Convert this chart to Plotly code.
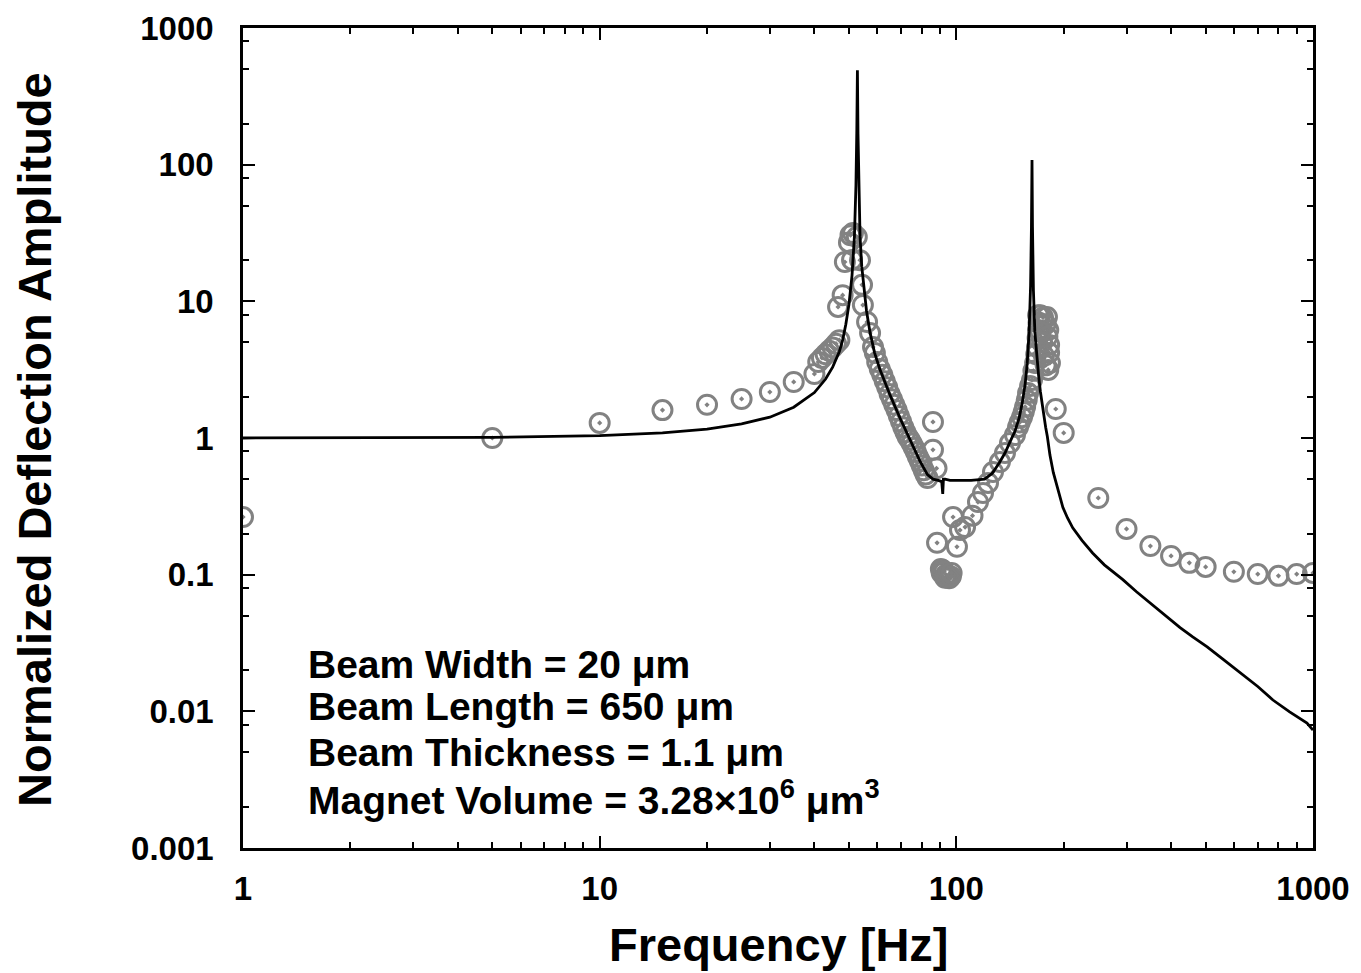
import plotly.graph_objects as go

# ---- measured data (open circles) ----
meas_f = [1, 5, 10, 15, 20, 25, 30, 35, 40,
          41, 42, 43, 44, 45, 46, 47,
          46.6, 48, 48.7, 50, 50.5, 51, 51.3, 52.6,
          53.7, 54.4, 54.7, 56.2, 57.3, 58.4, 59.1,
          60, 61, 62, 63, 64, 65, 66, 67, 68, 69, 70, 71, 72, 73, 74, 75, 76, 77, 78, 79, 80, 81, 82, 83,
          86, 86, 88, 88.3,
          90.5, 91, 91.5, 92.5, 93, 93.5, 94.5, 95.5, 96.5, 97,
          97.9, 100.4, 102.4, 105.8, 111, 115, 118.8, 122.7, 126.7, 132.5, 136.9, 141.4, 146, 148.9,
          150.5, 152.8, 154.5, 155.9, 157.5, 158.9, 161, 163, 164.5, 166.3, 167.5, 168.4, 169, 169.5, 170, 169.5,
          172, 175, 179.5, 178, 181, 180, 182, 182, 183, 181, 178, 176, 174, 172,
          190, 200, 250, 300, 350, 400, 450, 500, 600, 700, 800, 900, 1000]
meas_a = [0.264, 1.0, 1.29, 1.6, 1.75, 1.93, 2.17, 2.57, 2.94,
          3.6, 3.85, 4.1, 4.35, 4.6, 4.9, 5.2,
          9.1, 11.1, 19.4, 27, 30.5, 20.1, 31.6, 29.6,
          20, 13.2, 9.4, 7.06, 5.86, 4.63, 4.19,
          3.6, 3.2, 2.9, 2.6, 2.35, 2.1, 1.92, 1.75, 1.6, 1.45, 1.32, 1.2, 1.1, 1.02, 0.97, 0.91, 0.85, 0.79, 0.73, 0.68, 0.63, 0.58, 0.54, 0.51,
          1.31, 0.82, 0.6, 0.171,
          0.11, 0.103, 0.108, 0.105, 0.095, 0.1, 0.098, 0.094, 0.097, 0.103,
          0.264, 0.16, 0.212, 0.223, 0.27, 0.34, 0.396, 0.469, 0.564, 0.667, 0.776, 0.918, 1.05, 1.2,
          1.3, 1.42, 1.55, 1.69, 1.9, 2.13, 2.4, 2.66, 3.1, 3.54, 4.1, 4.63, 5.4, 6.17, 7.0, 7.9,
          7.9, 7.6, 7.67, 6.8, 6.17, 5.5, 4.8, 4.2, 3.54, 3.15, 3.4, 4.0, 5.0, 6.0,
          1.63, 1.09, 0.364, 0.216, 0.162, 0.137, 0.122, 0.114, 0.105, 0.101, 0.098, 0.101, 0.103]

# ---- model curve (solid line) ----
model_f = [1, 2, 5, 10, 15, 20, 25, 30, 35, 40, 43, 45, 47, 48, 49, 50, 51, 51.8, 52.3, 52.6, 52.8,
           53.0, 53.3, 53.7, 54.3, 55, 56, 57.3, 59, 61, 65, 69.5, 74, 79, 83, 86, 89, 91.0, 91.6, 92.0,
           93, 96, 100, 110, 120, 126, 132, 137, 141, 146, 150, 153, 156, 158, 160, 161.5, 162.4, 163,
           163.5, 164.5, 166, 168, 170, 172, 174, 176, 178, 180, 183, 187, 192, 199, 205, 212, 225, 241,
           260, 293, 320, 349, 385, 424, 460, 505, 560, 624, 700, 772, 860, 962, 1000]
model_a = [1.0, 1.0, 1.01, 1.04, 1.09, 1.16, 1.27, 1.42, 1.68, 2.15, 2.7, 3.3, 4.3, 5.2, 6.8, 9.5, 15.5, 30, 70, 180, 490,
           170, 60, 30, 18, 12.5, 8.5, 5.9, 4.2, 3.2, 2.1, 1.4, 0.98, 0.68, 0.54, 0.5, 0.49, 0.48, 0.39, 0.5,
           0.5, 0.49, 0.49, 0.49, 0.5, 0.55, 0.66, 0.78, 0.92, 1.12, 1.4, 1.8, 2.5, 3.5, 6, 13, 35, 108,
           35, 12, 6, 3.8, 2.9, 2.2, 1.75, 1.45, 1.2, 1.02, 0.75, 0.56, 0.43, 0.31, 0.26, 0.22, 0.178, 0.144,
           0.118, 0.092, 0.075, 0.062, 0.05, 0.041, 0.035, 0.0296, 0.024, 0.0191, 0.0152, 0.0121, 0.0099, 0.0082, 0.0073]

x_major = [1, 10, 100, 1000]
x_major_text = ["1", "10", "100", "1000"]
x_minor = [2, 3, 4, 5, 6, 7, 8, 9, 20, 30, 40, 50, 60, 70, 80, 90, 200, 300, 400, 500, 600, 700, 800, 900]
y_major = [0.001, 0.01, 0.1, 1, 10, 100, 1000]
y_major_text = ["0.001", "0.01", "0.1", "1", "10", "100", "1000"]
y_minor = [0.002, 0.005, 0.008, 0.02, 0.05, 0.08, 0.2, 0.5, 0.8, 2, 5, 8, 20, 50, 80, 200, 500, 800]

info_lines = ["Beam Width = 20 μm",
              "Beam Length = 650 μm",
              "Beam Thickness = 1.1 μm",
              "Magnet Volume = 3.28×10<sup>6</sup> μm<sup>3</sup>"]

FONT = "Liberation Sans, Arial, Helvetica, sans-serif"

fig = go.Figure()
fig.add_trace(go.Scatter(
    x=meas_f, y=meas_a, mode="markers",
    marker=dict(symbol="circle-open-dot", size=19, color="#828282",
                line=dict(width=3, color="#828282")),
    showlegend=False))
fig.add_trace(go.Scatter(
    x=model_f, y=model_a, mode="lines",
    line=dict(color="black", width=2.8),
    showlegend=False))

axis_common = dict(
    type="log", showgrid=False, zeroline=False, automargin=False,
    showline=True, linecolor="black", linewidth=2.5, mirror="allticks",
    ticks="inside", ticklen=12, tickwidth=2, tickcolor="black",
    tickfont=dict(family=FONT, size=33, color="black", weight="bold"),
    tickmode="array",
)

fig.update_xaxes(**axis_common, range=[0, 3], tickvals=x_major, ticktext=x_major_text,
                 ticklabelstandoff=10,
                 minor=dict(ticks="inside", ticklen=6, tickwidth=2, tickcolor="black",
                            tickmode="array", tickvals=x_minor, showgrid=False))
fig.update_yaxes(**axis_common, range=[-3, 3], tickvals=y_major, ticktext=y_major_text,
                 ticklabelstandoff=20,
                 minor=dict(ticks="inside", ticklen=6, tickwidth=2, tickcolor="black",
                            tickmode="array", tickvals=y_minor, showgrid=False))

annots = []
ys = [0.2232, 0.172, 0.117, 0.062]
for txt, yy in zip(info_lines, ys):
    annots.append(dict(text=txt, xref="paper", yref="paper", x=0.059, y=yy,
                       xanchor="left", yanchor="middle", showarrow=False,
                       font=dict(family=FONT, size=39, color="black", weight="bold")))
annots.append(dict(text="Frequency [Hz]", xref="paper", yref="paper", x=0.501, y=-0.118,
                   xanchor="center", yanchor="middle", showarrow=False,
                   font=dict(family=FONT, size=47, color="black", weight="bold")))
annots.append(dict(text="Normalized Deflection Amplitude", xref="paper", yref="paper",
                   x=-0.1944, y=0.4988, textangle=-90,
                   xanchor="center", yanchor="middle", showarrow=False,
                   font=dict(family=FONT, size=47, color="black", weight="bold")))

# page body has an 8px default margin; compensate so the plot lands where the reference has it
fig.update_layout(
    width=1353, height=965,
    margin=dict(l=235, r=48, t=20, b=125),
    plot_bgcolor="white", paper_bgcolor="white",
    annotations=annots,
)

fig.write_html("out.html")
